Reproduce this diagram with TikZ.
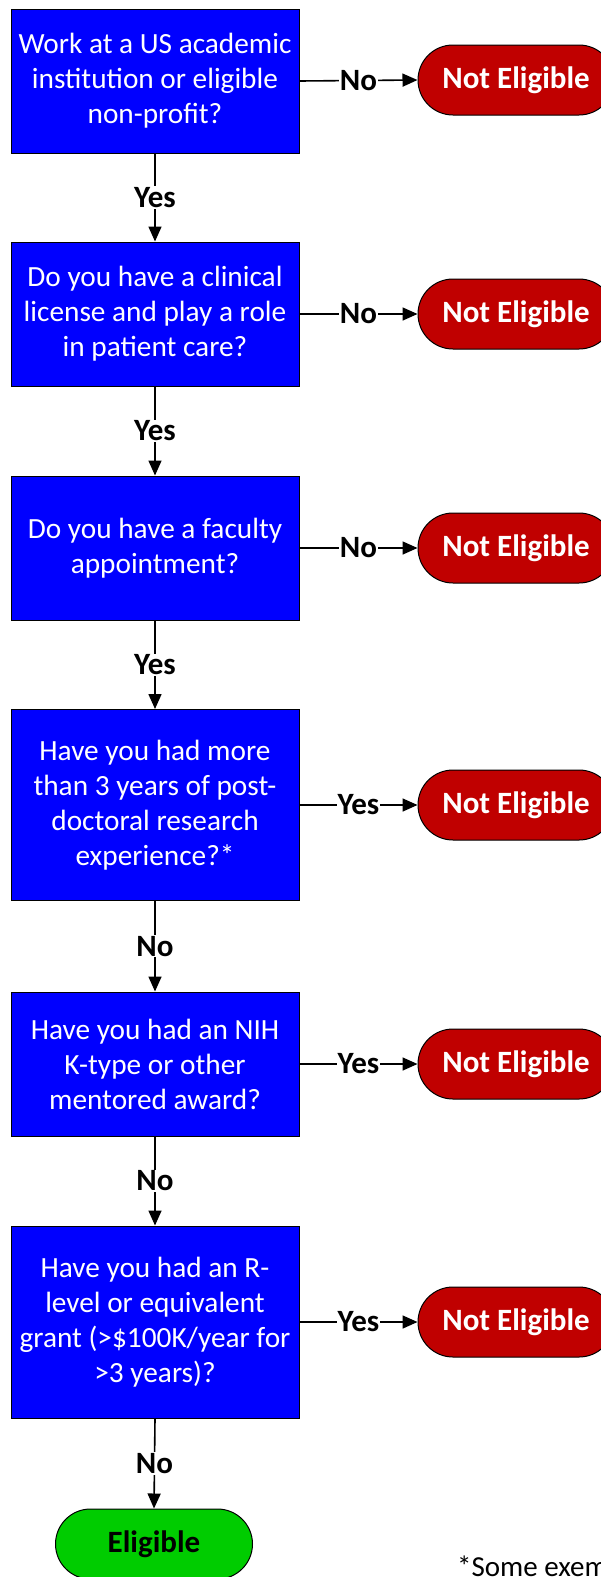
\documentclass[tikz,border=0pt]{standalone}
\usepackage{fontspec}
\setmainfont{Carlito}
\usetikzlibrary{arrows.meta}
\definecolor{qblue}{RGB}{0,0,255}
\definecolor{nered}{RGB}{192,0,0}
\definecolor{elgreen}{RGB}{0,204,0}
\tikzset{
  qbox/.style={draw=black, line width=1pt, fill=qblue, text=white, minimum width=288pt,
    align=center, inner sep=0pt, font=\fontsize{29.3}{35}\selectfont},
  term/.style={draw=black, line width=1pt, rounded corners=35pt, minimum width=196pt,
    minimum height=70pt, inner sep=0pt, font=\bfseries\fontsize{31}{34}\selectfont},
  noel/.style={term, fill=nered, text=white},
  yesel/.style={term, fill=elgreen, text=black, minimum width=197pt},
  lbl/.style={fill=white, inner sep=1pt, font=\bfseries\fontsize{31}{34}\selectfont, text=black},
  arr/.style={line width=1.6pt, -{Triangle[length=15pt,width=13pt]}},
}
\begin{document}
\begin{tikzpicture}[x=1pt,y=-1pt]
\useasboundingbox (0,0) rectangle (601,1577);
\clip (0,0) rectangle (601,1577);
\fill[white] (0,0) rectangle (601,1577);
% questions
\node[qbox, minimum height=144pt] (b1) at (155,81) {Work at a US academic\\institution or eligible\\non-profit?};
\node[qbox, minimum height=144pt] (b2) at (155,314) {Do you have a clinical\\license and play a role\\in patient care?};
\node[qbox, minimum height=144pt] (b3) at (155,548) {Do you have a faculty\\appointment?};
\node[qbox, minimum height=191pt] (b4) at (155,805) {Have you had more\\than 3 years of post-\\doctoral research\\experience?*};
\node[qbox, minimum height=144pt] (b5) at (155,1064) {Have you had an NIH\\K-type or other\\mentored award?};
\node[qbox, minimum height=192pt] (b6) at (155,1322) {Have you had an R-\\level or equivalent\\grant (>\$100K/year for\\>3 years)?};
% terminals
\node[noel] (n1) at (516,80) {Not Eligible};
\node[noel] (n2) at (516,314) {Not Eligible};
\node[noel] (n3) at (516,548) {Not Eligible};
\node[noel] (n4) at (516,805) {Not Eligible};
\node[noel] (n5) at (516,1064) {Not Eligible};
\node[noel] (n6) at (516,1322) {Not Eligible};
\node[yesel] (el) at (154,1544) {Eligible};
% vertical connectors
\draw[arr] (b1.south) -- node[lbl]{Yes} (b2.north);
\draw[arr] (b2.south) -- node[lbl]{Yes} (b3.north);
\draw[arr] (b3.south) -- node[lbl]{Yes} (b4.north);
\draw[arr] (b4.south) -- node[lbl]{No} (b5.north);
\draw[arr] (b5.south) -- node[lbl]{No} (b6.north);
\draw[arr] (b6.south) -- node[lbl]{No} (el.north);
% horizontal connectors
\draw[arr] (b1.east) -- node[lbl]{No} (n1.west);
\draw[arr] (b2.east) -- node[lbl]{No} (n2.west);
\draw[arr] (b3.east) -- node[lbl]{No} (n3.west);
\draw[arr] (b4.east) -- node[lbl]{Yes} (n4.west);
\draw[arr] (b5.east) -- node[lbl]{Yes} (n5.west);
\draw[arr] (b6.east) -- node[lbl]{Yes} (n6.west);
% footnote
\node[anchor=base west, inner sep=0pt, font=\fontsize{29}{32}\selectfont] (fn) at (457,1576) {*Some exemptions};
\end{tikzpicture}
\end{document}
